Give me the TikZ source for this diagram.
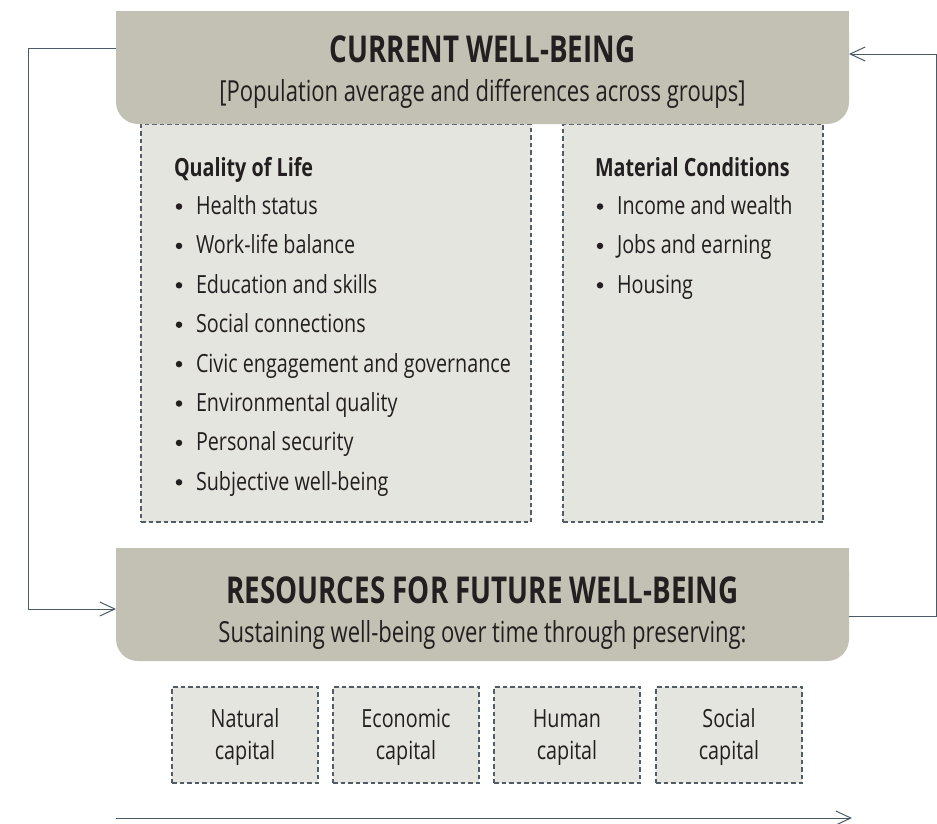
\documentclass[tikz,border=0pt]{standalone}
\usepackage{fontspec}
\setmainfont[FakeStretch=0.79]{Open Sans}
\newfontfamily\ttlfont[FakeStretch=0.75]{Open Sans}
\newfontfamily\subfont[FakeStretch=0.76]{Open Sans}
\usetikzlibrary{arrows.meta}
\definecolor{hdr}{HTML}{C3C1B3}
\definecolor{pane}{HTML}{E5E5E0}
\definecolor{dashc}{HTML}{505C66}
\definecolor{ink}{HTML}{231F20}
\definecolor{arr}{HTML}{4A5A66}
\tikzset{
  header/.style={fill=hdr, rounded corners=22pt, inner sep=0pt, outer sep=0pt},
  panebox/.style={fill=pane, draw=dashc, line width=1.1pt, dash pattern=on 4.5pt off 3pt, inner sep=0pt, outer sep=0pt},
  flow/.style={draw=arr, line width=1pt},
  flowarrow/.style={flow, -{Straight Barb[length=15pt,width=14pt,line width=1pt]}},
  txt/.style={text=ink, inner sep=0pt, outer sep=0pt},
  title/.style={txt, font=\ttlfont\fontsize{37}{42}\selectfont\bfseries, anchor=base},
  subtitle/.style={txt, font=\subfont\fontsize{29}{34}\selectfont, anchor=base},
  listhead/.style={txt, font=\fontsize{25}{30}\selectfont\bfseries, anchor=base west},
  item/.style={txt, font=\fontsize{25}{30}\selectfont, anchor=base west},
  bul/.style={circle, fill=ink, inner sep=0pt, minimum size=6.5pt},
  capbox/.style={panebox, minimum width=146pt, minimum height=96pt},
  captext/.style={txt, font=\fontsize{25}{32}\selectfont, anchor=base}
}
\begin{document}
\begin{tikzpicture}[x=1pt,y=-1pt]
\useasboundingbox (0,0) rectangle (937,823);

% panes
\node[panebox, minimum width=390pt, minimum height=398pt] (qol) at (336,323) {};
\node[panebox, minimum width=260pt, minimum height=398pt] (mat) at (693,323) {};

% headers
\node[header, minimum width=733pt, minimum height=113pt] (cur) at (482.5,67.5) {};
\fill[hdr] (cur.north west) rectangle ([yshift=-40pt]cur.north east);
\node[header, minimum width=733pt, minimum height=113pt] (res) at (482.5,604.5) {};
\fill[hdr] (res.north west) rectangle ([yshift=-40pt]res.north east);

\node[title] (curt) at (482.5,62.5) {CURRENT WELL-BEING};
\node[subtitle] (curs) at (482.5,101) {[Population average and differences across groups]};
\node[title] (rest) at (482.5,603) {RESOURCES FOR FUTURE WELL-BEING};
\node[subtitle] (ress) at (482.5,642) {Sustaining well-being over time through preserving:};

% quality of life list
\node[listhead] (qolh) at (174,176) {Quality of Life};
\foreach \t [count=\i] in {Health status, Work-life balance, Education and skills, Social connections, Civic engagement and governance, Environmental quality, Personal security, Subjective well-being}{
  \node[bul] (qb\i) at (179,{214.5+39.4*(\i-1)-8}) {};
  \node[item] (qi\i) at (196,{214.5+39.4*(\i-1)}) {\t};
}
% material conditions list
\node[listhead] (math) at (595,176) {Material Conditions};
\foreach \t [count=\i] in {Income and wealth, Jobs and earning, Housing}{
  \node[bul] (mb\i) at (600,{214.5+39.4*(\i-1)-8}) {};
  \node[item] (mi\i) at (617,{214.5+39.4*(\i-1)}) {\t};
}

% capitals
\foreach \nm/\x/\a/\b in {nat/245/Natural/capital, eco/406/Economic/capital, hum/567/Human/capital, soc/729/Social/capital}{
  \node[capbox] (\nm) at (\x,735) {};
  \node[captext] (\nm a) at (\x,727.5) {\a};
  \node[captext] (\nm b) at (\x,759.5) {\b};
}

% feedback arrows
\coordinate (lt) at (28,48);
\coordinate (lb) at (28,609);
\draw[flowarrow] (cur.west |- lt) -- (lt) -- (lb) -- (res.west |- lb);
\coordinate (rb) at (936.5,616);
\coordinate (rt) at (936.5,54);
\draw[flowarrow] (res.east |- rb) -- (rb) -- (rt) -- (cur.east |- rt);
\coordinate (ts) at (116,818);
\coordinate (te) at (852,818);
\draw[flowarrow] (ts) -- (te);
\end{tikzpicture}
\end{document}
